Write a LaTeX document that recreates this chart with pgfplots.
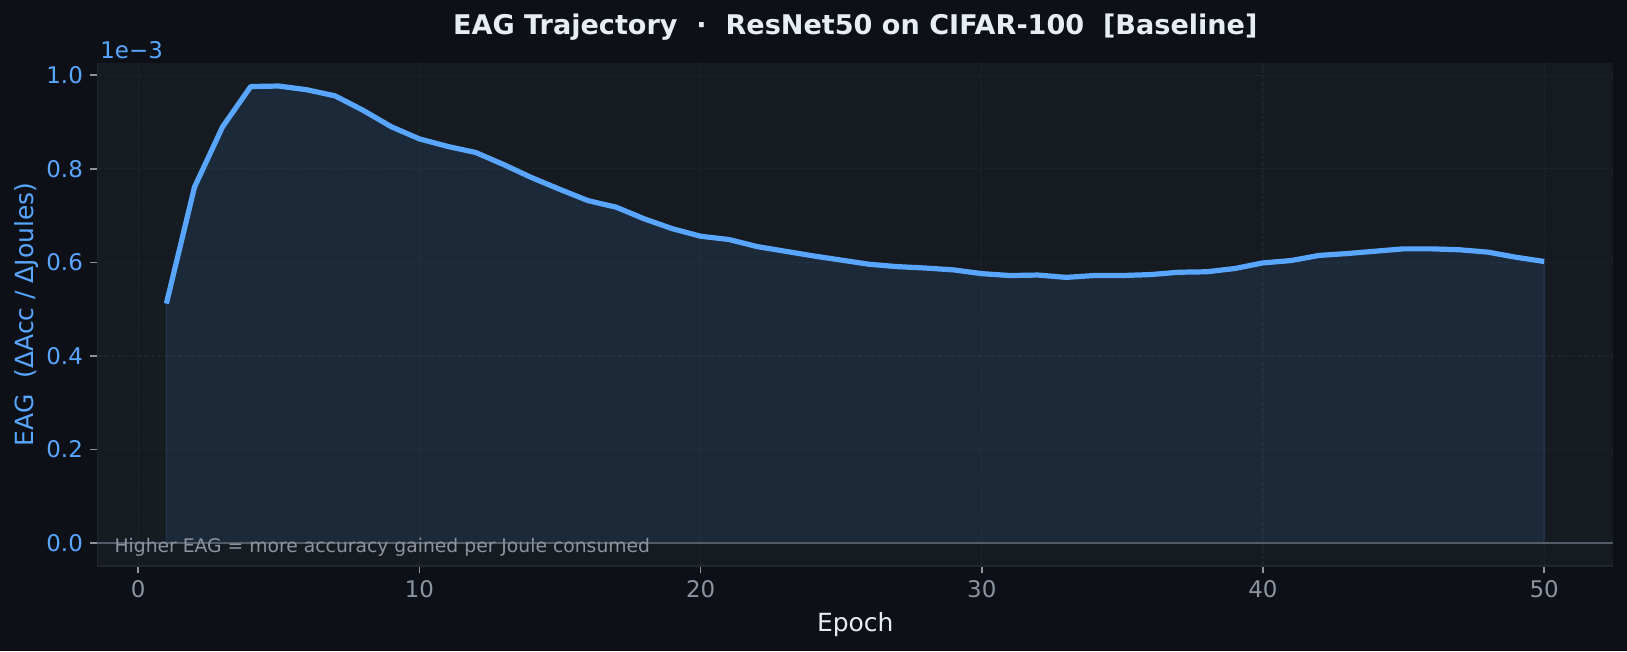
\documentclass[border=0pt]{standalone}
\usepackage{fontspec}
\setmainfont{DejaVu Sans}
\usepackage{pgfplots}
\pgfplotsset{compat=1.18}
\usepackage{pgfplotstable}

\definecolor{FigBg}{HTML}{0D1117}
\definecolor{AxBg}{HTML}{161B22}
\definecolor{Spine}{HTML}{21262D}
\definecolor{GridC}{HTML}{1F242B}
\definecolor{LineBlue}{HTML}{58A6FF}
\definecolor{TickGray}{HTML}{8B949E}
\definecolor{TitleC}{HTML}{E6EDF3}
\definecolor{ZeroC}{HTML}{535B66}

% EAG per epoch, in units of 1e-3
\pgfplotstableread{
epoch eag
1  0.512
2  0.761
3  0.890
4  0.976
5  0.977
6  0.969
7  0.956
8  0.925
9  0.890
10 0.864
11 0.848
12 0.835
13 0.809
14 0.781
15 0.756
16 0.732
17 0.718
18 0.693
19 0.672
20 0.656
21 0.649
22 0.634
23 0.624
24 0.614
25 0.605
26 0.596
27 0.591
28 0.588
29 0.584
30 0.576
31 0.572
32 0.573
33 0.568
34 0.572
35 0.572
36 0.574
37 0.579
38 0.580
39 0.587
40 0.599
41 0.604
42 0.615
43 0.619
44 0.624
45 0.629
46 0.629
47 0.627
48 0.622
49 0.611
50 0.602
}\eagdata

\begin{document}
\begin{tikzpicture}
  % figure background, also the page size
  \path[use as bounding box, fill=FigBg] (-46.8pt,-40.8pt) rectangle (734.2pt,271.7pt);
  \begin{axis}[
      at={(0,0)}, anchor=south west,
      scale only axis,
      width=727.5pt, height=241.6pt,
      xmin=-1.45, xmax=52.45,
      ymin=-0.0489, ymax=1.0269,
      xtick={0,10,20,30,40,50},
      ytick={0,0.2,0.4,0.6,0.8,1.0},
      scaled y ticks=false,
      xtick pos=bottom, ytick pos=left,
      tick align=outside,
      major tick length=3.5pt,
      tick style={TickGray, line width=0.8pt},
      axis background/.style={fill=AxBg},
      axis line style={draw=none},
      grid=major,
      major grid style={GridC, line width=0.6pt, dash pattern=on 2.2pt off 1pt},
      x tick label style={font=\fontsize{11}{13}\selectfont, text=TickGray,
        /pgf/number format/assume math mode=true},
      y tick label style={font=\fontsize{11}{13}\selectfont, text=LineBlue,
        /pgf/number format/.cd, fixed, fixed zerofill, precision=1,
        assume math mode=true},
      xlabel={Epoch},
      xlabel style={font=\fontsize{12}{14}\selectfont, text=TitleC},
      ylabel={EAG\ \ (ΔAcc / ΔJoules)},
      ylabel style={font=\fontsize{12}{14}\selectfont, text=LineBlue, yshift=-3pt},
      clip=false,
    ]
    % spines (left and bottom only)
    \draw[Spine, line width=0.8pt] (rel axis cs:0,1) -- (rel axis cs:0,0) -- (rel axis cs:1,0);

    % area under the curve
    \addplot[fill=LineBlue, fill opacity=0.1, draw=LineBlue, draw opacity=0.12,
             line width=0.8pt] table[x=epoch, y=eag] {\eagdata} \closedcycle;

    % zero line
    \addplot[ZeroC, line width=0.9pt] coordinates {(-1.45,0) (52.45,0)};

    % EAG trajectory
    \addplot[LineBlue, line width=2.5pt, line join=round] table[x=epoch, y=eag] {\eagdata};

    \node[anchor=base west, inner sep=0pt, font=\fontsize{9}{11}\selectfont, text=TickGray]
      at ([xshift=8pt, yshift=6.4pt]rel axis cs:0,0)
      {Higher EAG = more accuracy gained per Joule consumed};

    \node[anchor=base west, inner sep=0pt, font=\fontsize{11}{13}\selectfont, text=LineBlue]
      at ([xshift=1.2pt, yshift=2.1pt]rel axis cs:0,1) {1e−3};

    \node[anchor=base, font=\bfseries\fontsize{13}{15}\selectfont, text=TitleC]
      at ([yshift=13.3pt]rel axis cs:0.5,1)
      {EAG Trajectory\ \ ·\ \ ResNet50 on CIFAR-100\ \ [Baseline]};
  \end{axis}
\end{tikzpicture}
\end{document}
